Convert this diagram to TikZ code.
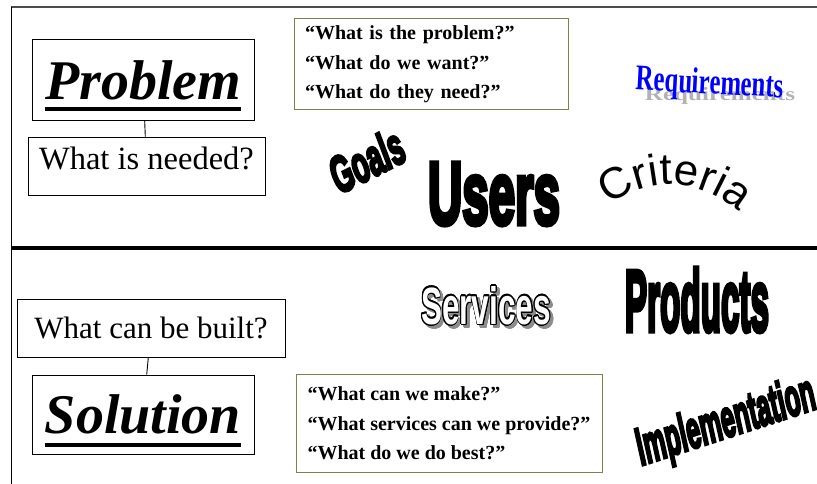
\documentclass[tikz,border=0pt]{standalone}
\usepackage{fontspec}
\setmainfont{Liberation Serif}
\newfontfamily\heavyfont{Liberation Sans}[UprightFont=* Bold, FakeBold=6]
\newfontfamily\heavyslant{Liberation Sans}[UprightFont=* Bold, FakeBold=6, FakeSlant=0.2]
\newfontfamily\roundfont{Liberation Sans}
\usepackage{contour}
\contourlength{0.9pt}
\usepackage{tikz}
\usetikzlibrary{positioning, calc, decorations.text}
\definecolor{olivebox}{RGB}{128,128,80}
\newcommand{\thickul}[2]{\setbox0=\hbox{#2}\rlap{\usebox0}\rule[#1]{\wd0}{4pt}}
\newcommand{\critfont}{\roundfont\fontsize{44}{44}\selectfont}
\newcommand{\servfont}{\roundfont\fontsize{36}{36}\selectfont\bfseries}

\begin{document}
\begin{tikzpicture}[x=1pt, y=1pt, every node/.style={inner sep=0pt},
    box/.style={draw, line width=0.9pt, align=center},
    qbox/.style={draw=olivebox, line width=1pt, align=left, font=\fontsize{20}{29.5}\selectfont\bfseries},
    plain/.style={font=\fontsize{31}{36}\selectfont},
    title/.style={font=\fontsize{56}{60}\selectfont\bfseries\itshape}]
    \useasboundingbox (0,0) rectangle (817,-484);
    \draw[black!70, line width=1.2pt] (11,-7) -- (817,-7);
    \draw[line width=0.9pt] (11,-7) -- (11,-484);
    \draw[line width=4pt] (11,-248) -- (817,-248);

    \node[box, title, minimum width=222pt, minimum height=81pt, text height=52pt, text depth=11pt] (problem) at (143,-79.5) {\thickul{-11pt}{Problem}};
    \node[box, plain, font=\fontsize{32.5}{36}\selectfont, minimum width=237pt, minimum height=58pt, text height=21pt, text depth=13pt] (needed) at (146.5,-166) {What is needed?};
    \node[box, plain, minimum width=268pt, minimum height=58pt, text height=22pt, text depth=3pt] (built) at (151,-328.5) {What can be built?};
    \node[box, title, minimum width=222pt, minimum height=79pt, text height=51pt, text depth=14pt] (solution) at (143,-414.5) {\thickul{-14pt}{Solution}};
    \draw[line width=0.9pt] (problem) -- (needed);
    \draw[line width=0.9pt] (built) -- (solution);

    \node[qbox, text width=252pt, inner xsep=11pt, minimum height=91pt] (askproblem) at (431,-64.5) {``What is the problem?''\\``What do we want?''\\``What do they need?''};
    \node[qbox, minimum width=306pt, minimum height=98pt] (asksolution) at (449,-423.5) {``What can we make?''\\``What services can we provide?''\\``What do we do best?''};

    \node (reqshadow) at (720,-96) {\textcolor{black!30}{\resizebox{150pt}{13pt}{\bfseries Requirements}}};
    \node[rotate=-3] (req) at (710,-85) {\textcolor{blue}{\resizebox{148pt}{25pt}{\bfseries Requirements}}};
    \node[rotate=27] (goals) at (365,-161) {\resizebox{78pt}{37pt}{\heavyslant Goals}};
    \node (users) at (494,-194) {\resizebox{132pt}{61pt}{\heavyfont Users}};
    \path[decorate, decoration={text along path, text={|\critfont|Criteria}, text align=center}]
        (592,-222) .. controls (636,-172) and (705,-170) .. (756,-228);

    \node (servshadow) at (489,-309) {\resizebox{130pt}{38pt}{\contour{black!45}{\textcolor{black!45}{\servfont Services}}}};
    \node (services) at (486,-306) {\resizebox{130pt}{38pt}{\contour{black}{\textcolor{white}{\servfont Services}}}};
    \node (products) at (697,-300) {\resizebox{144pt}{63pt}{\heavyfont Products}};
    \node[rotate=18] (impl) at (725,-424) {\resizebox{186pt}{38pt}{\heavyslant Implementation}};
\end{tikzpicture}
\end{document}
